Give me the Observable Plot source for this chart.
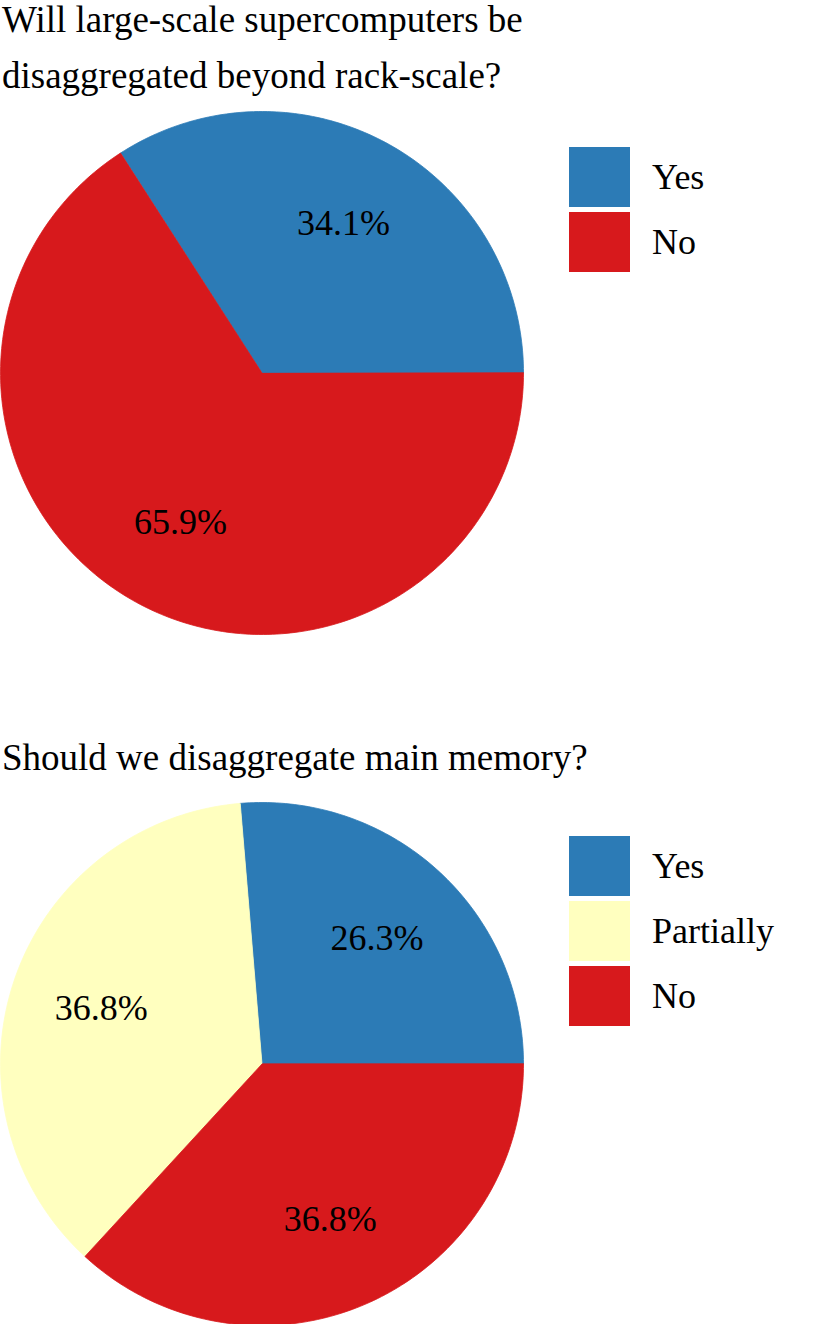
<!DOCTYPE html>
<html>
<head>
<meta charset="utf-8">
<script src="https://cdn.jsdelivr.net/npm/d3@7"></script>
<script src="https://cdn.jsdelivr.net/npm/@observablehq/plot@0.6"></script>
</head>
<body style="margin:0;padding:0;background:#fff;width:831px;height:1324px;position:relative;overflow:hidden;font-family:'Liberation Serif';color:#000">
<script>
// ---- data ----
const q1Title = ["Will large-scale supercomputers be", "disaggregated beyond rack-scale?"];
const q1Categories = ["Yes", "No"];
const q1Values = [34.1, 65.9];

const q2Title = ["Should we disaggregate main memory?"];
const q2Categories = ["Yes", "Partially", "No"];
const q2Values = [26.3, 36.8, 36.8];

const colorDomain = ["Yes", "Partially", "No"];
const colorRange = ["#2c7bb6", "#ffffbf", "#d7191c"];

// ---- settings ----
const FONT = "'Liberation Serif', serif";
const FS = 36;
const TITLE_FS = 37;
const SIZE = 523;
const LABEL_R = 0.65;

function wedges(categories, values) {
  const total = d3.sum(values);
  const pts = [];
  const labels = [];
  let a = 0;
  categories.forEach((cat, i) => {
    const a0 = a, a1 = a + values[i] / total * 2 * Math.PI;
    const n = Math.max(4, Math.ceil((a1 - a0) / (Math.PI / 180)));
    pts.push({cat, x: 0, y: 0});
    for (let k = 0; k <= n; k++) {
      const t = a0 + (a1 - a0) * k / n;
      pts.push({cat, x: Math.cos(t), y: Math.sin(t)});
    }
    const m = (a0 + a1) / 2;
    labels.push({x: LABEL_R * Math.cos(m), y: LABEL_R * Math.sin(m), text: values[i].toFixed(1) + "%"});
    a = a1;
  });
  return {pts, labels};
}

function pieChart(categories, values) {
  const {pts, labels} = wedges(categories, values);
  const svg = Plot.plot({
    width: SIZE, height: SIZE, margin: 0,
    x: {domain: [-1, 1], axis: null},
    y: {domain: [-1, 1], axis: null},
    color: {domain: colorDomain, range: colorRange},
    style: {background: "transparent", overflow: "visible", fontFamily: FONT},
    marks: [
      Plot.line(pts, {x: "x", y: "y", z: "cat", fill: "cat", stroke: "cat", strokeWidth: 0.8, curve: "linear-closed"}),
      Plot.text(labels, {x: "x", y: "y", text: "text", fontSize: FS, fill: "black", fontFamily: FONT})
    ]
  });
  svg.querySelectorAll("text").forEach(t => t.style.fontFamily = FONT);
  return svg;
}

function el(tag, css, text) {
  const d = document.createElement(tag);
  Object.assign(d.style, css);
  if (text != null) d.textContent = text;
  return d;
}

function addTitle(lines, top) {
  lines.forEach((l, i) => {
    document.body.appendChild(el("div", {
      position: "absolute", left: "2px", top: (top + i * 56) + "px",
      fontFamily: FONT, fontSize: TITLE_FS + "px", lineHeight: TITLE_FS + "px", whiteSpace: "nowrap"
    }, l));
  });
}

function addLegend(categories, top) {
  const color = d3.scaleOrdinal(colorDomain, colorRange);
  categories.forEach((c, i) => {
    const y = top + i * 65;
    document.body.appendChild(el("div", {
      position: "absolute", left: "569px", top: y + "px", width: "61px", height: "60px", background: color(c)
    }));
    document.body.appendChild(el("div", {
      position: "absolute", left: "652px", top: (y + 12) + "px",
      fontFamily: FONT, fontSize: FS + "px", lineHeight: FS + "px", whiteSpace: "nowrap"
    }, c));
  });
}

function addPie(categories, values, top) {
  const wrap = el("div", {position: "absolute", left: "0px", top: top + "px"});
  wrap.appendChild(pieChart(categories, values));
  document.body.appendChild(wrap);
}

// ---- chart 1 ----
addTitle(q1Title, 1);
addPie(q1Categories, q1Values, 111);
addLegend(q1Categories, 147);

// ---- chart 2 ----
addTitle(q2Title, 739);
addPie(q2Categories, q2Values, 802);
addLegend(q2Categories, 836);
</script>
</body>
</html>
